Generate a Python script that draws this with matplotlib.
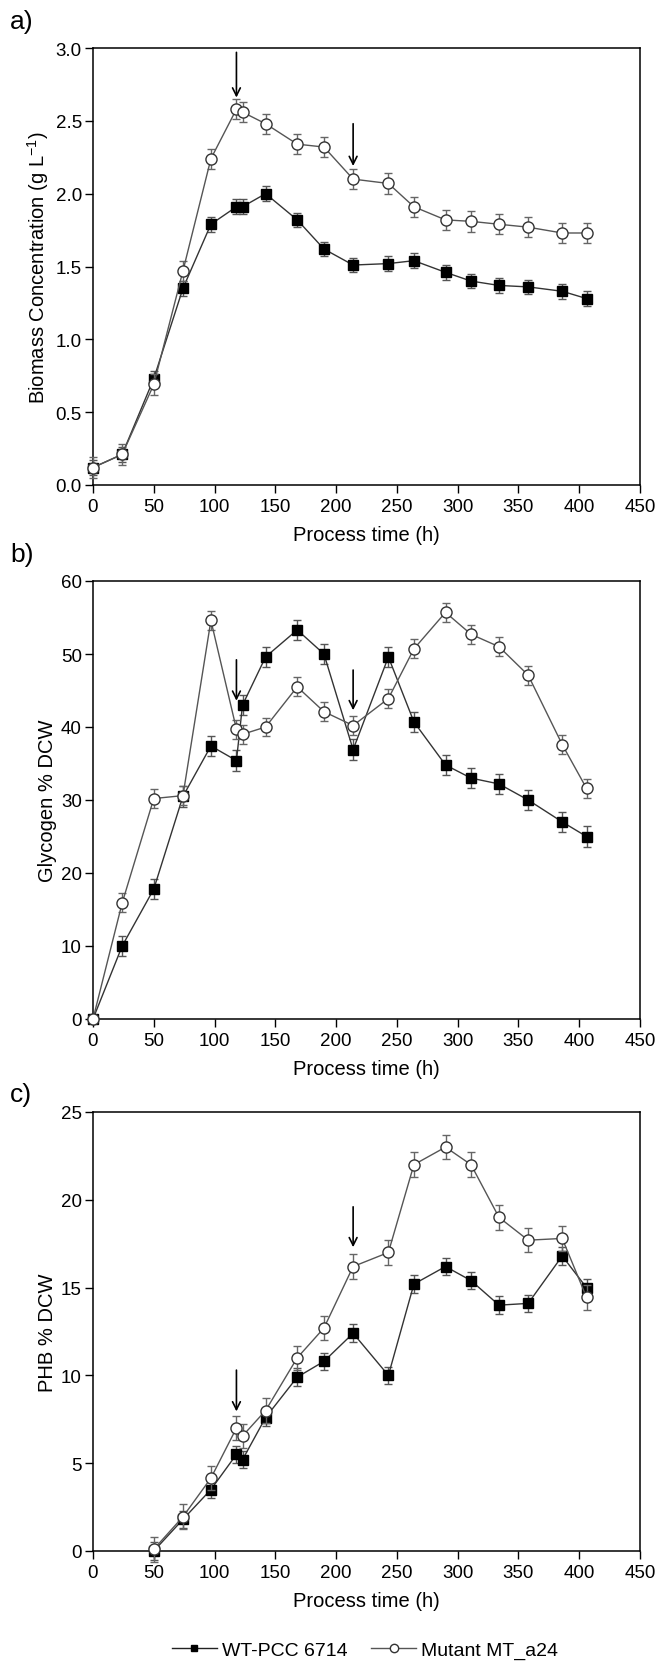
import numpy as np
import matplotlib.pyplot as plt
from matplotlib.lines import Line2D

plt.rcParams['font.family'] = ['Liberation Sans', 'DejaVu Sans']
plt.rcParams['mathtext.default'] = 'regular'

# tiempos de muestreo (h)
t = [0, 24, 50, 74, 97, 118, 123, 142, 168, 190, 214, 243, 264, 290, 311, 334, 358, 386, 406]
t_phb = t[2:]

# a) biomasa (g/L)
wt_bio = [0.12, 0.21, 0.73, 1.35, 1.79, 1.91, 1.91, 2.00, 1.82, 1.62, 1.51, 1.52, 1.54, 1.46, 1.40, 1.37, 1.36, 1.33, 1.28]
wt_bio_err = [0.05, 0.05, 0.05, 0.05, 0.05, 0.05, 0.05, 0.05, 0.05, 0.05, 0.05, 0.05, 0.05, 0.05, 0.05, 0.05, 0.05, 0.05, 0.05]
mt_bio = [0.12, 0.21, 0.69, 1.47, 2.24, 2.58, 2.56, 2.48, 2.34, 2.32, 2.10, 2.07, 1.91, 1.82, 1.81, 1.79, 1.77, 1.73, 1.73]
mt_bio_err = [0.07, 0.07, 0.07, 0.07, 0.07, 0.07, 0.07, 0.07, 0.07, 0.07, 0.07, 0.07, 0.07, 0.07, 0.07, 0.07, 0.07, 0.07, 0.07]

# b) glucogeno (% DCW)
wt_gly = [0, 10.0, 17.8, 30.5, 37.4, 35.4, 43.0, 49.6, 53.3, 50.0, 36.9, 49.6, 40.7, 34.8, 33.0, 32.2, 30.0, 27.0, 25.0]
wt_gly_err = [0, 1.4, 1.4, 1.4, 1.4, 1.4, 1.4, 1.4, 1.4, 1.4, 1.4, 1.4, 1.4, 1.4, 1.4, 1.4, 1.4, 1.4, 1.4]
mt_gly = [0, 15.9, 30.2, 30.6, 54.6, 39.7, 39.0, 40.0, 45.5, 42.1, 40.2, 43.9, 50.7, 55.7, 52.7, 51.0, 47.1, 37.6, 31.6]
mt_gly_err = [0, 1.3, 1.3, 1.3, 1.3, 1.3, 1.3, 1.3, 1.3, 1.3, 1.3, 1.3, 1.3, 1.3, 1.3, 1.3, 1.3, 1.3, 1.3]

# c) PHB (% DCW)
wt_phb = [0, 1.8, 3.5, 5.5, 5.2, 7.6, 9.9, 10.8, 12.4, 10.0, 15.2, 16.2, 15.4, 14.0, 14.1, 16.8, 15.0]
wt_phb_err = [0.5, 0.5, 0.5, 0.5, 0.5, 0.5, 0.5, 0.5, 0.5, 0.5, 0.5, 0.5, 0.5, 0.5, 0.5, 0.5, 0.5]
mt_phb = [0.1, 1.95, 4.15, 7.0, 6.55, 8.0, 11.0, 12.7, 16.2, 17.0, 22.0, 23.0, 22.0, 19.0, 17.7, 17.8, 14.45]
mt_phb_err = [0.7, 0.7, 0.7, 0.7, 0.7, 0.7, 0.7, 0.7, 0.7, 0.7, 0.7, 0.7, 0.7, 0.7, 0.7, 0.7, 0.7]

# flechas (x, y inicio, y fin)
flechas_a = [(118, 2.97, 2.66), (214, 2.48, 2.19)]
flechas_b = [(118, 49.2, 43.6), (214, 47.8, 42.3)]
flechas_c = [(118, 10.3, 7.95), (214, 19.6, 17.3)]

fig = plt.figure(figsize=(6.56, 16.65), dpi=100)
left, width = 93 / 656, 547 / 656
ax_a = fig.add_axes([left, 1 - 486 / 1665, width, 437 / 1665])
ax_b = fig.add_axes([left, 1 - 1020 / 1665, width, 438 / 1665])
ax_c = fig.add_axes([left, 1 - 1552 / 1665, width, 439 / 1665])


def dibujar(ax, x, wt, wt_err, mt, mt_err, flechas, ylim, yticks, ylabel, fmt):
    ax.errorbar(x, wt, yerr=wt_err, fmt='s', color='#333333', ms=6.5, mfc='black', mec='black',
                ecolor='#555555', elinewidth=1, capsize=3, capthick=1, ls='-', lw=1,
                clip_on=False, zorder=3)
    ax.errorbar(x, mt, yerr=mt_err, fmt='o', color='#555555', ms=8, mfc='white', mec='#333333',
                mew=1, ecolor='#666666', elinewidth=1, capsize=3, capthick=1, ls='-', lw=1,
                clip_on=False, zorder=4)
    for xf, y0, y1 in flechas:
        ax.annotate('', xy=(xf, y1), xytext=(xf, y0),
                    arrowprops=dict(arrowstyle='->', lw=1.2, color='black',
                                    mutation_scale=14, shrinkA=0, shrinkB=0))
    ax.set_xlim(0, 450)
    ax.set_ylim(*ylim)
    ax.set_xticks(np.arange(0, 451, 50))
    ax.set_yticks(yticks)
    ax.set_yticklabels([fmt.format(v) for v in yticks])
    ax.tick_params(axis='both', direction='out', length=6, width=1, labelsize=13.5,
                   top=False, right=False)
    ax.tick_params(axis='x', pad=3.5)
    ax.tick_params(axis='y', pad=2)
    for s in ax.spines.values():
        s.set_linewidth(1.1)
    ax.set_xlabel('Process time (h)', fontsize=14.5, labelpad=7)
    ax.set_ylabel(ylabel, fontsize=14.5, labelpad=3)


dibujar(ax_a, t, wt_bio, wt_bio_err, mt_bio, mt_bio_err, flechas_a, (0, 3.0),
        np.arange(0, 3.01, 0.5), 'Biomass Concentration (g L$^{-1}$)', '{:.1f}')
dibujar(ax_b, t, wt_gly, wt_gly_err, mt_gly, mt_gly_err, flechas_b, (0, 60),
        np.arange(0, 61, 10), 'Glycogen % DCW', '{:.0f}')
dibujar(ax_c, t_phb, wt_phb, wt_phb_err, mt_phb, mt_phb_err, flechas_c, (0, 25),
        np.arange(0, 26, 5), 'PHB % DCW', '{:.0f}')

fig.text(10 / 656, 1 - 22 / 1665, 'a)', fontsize=19, va='center', ha='left')
fig.text(10 / 656, 1 - 555 / 1665, 'b)', fontsize=19, va='center', ha='left')
fig.text(10 / 656, 1 - 1095 / 1665, 'c)', fontsize=19, va='center', ha='left')

h = [Line2D([], [], color='#222222', lw=1, marker='s', ms=5, mfc='black', mec='black'),
     Line2D([], [], color='#555555', lw=1, marker='o', ms=6, mfc='white', mec='#333333')]
l = ['WT-PCC 6714', 'Mutant MT_a24']
fig.legend(h, l, loc='center', bbox_to_anchor=(365 / 656, 1 - 1651 / 1665), ncol=2,
           frameon=False, fontsize=14, handlelength=2.3, columnspacing=1.25,
           handletextpad=0.25, borderaxespad=0, borderpad=0)

fig.savefig('out.png', dpi=100)
